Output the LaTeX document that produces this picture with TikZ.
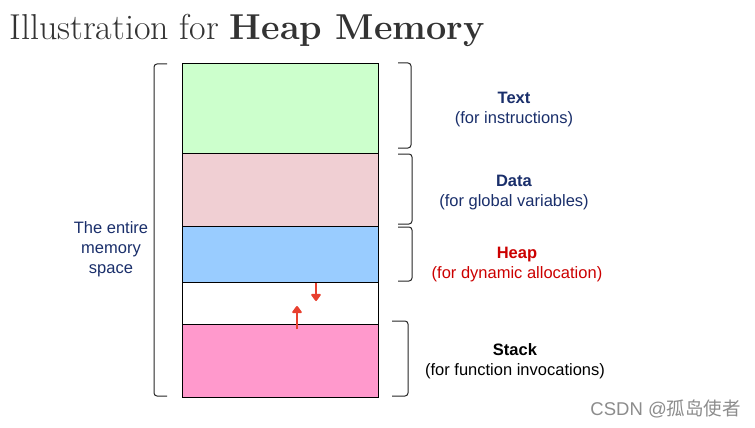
\documentclass[tikz,border=0pt]{standalone}
\usepackage{fontspec}
\setsansfont{Liberation Sans}
\newfontfamily\cjkfont{Noto Sans CJK SC}
\usetikzlibrary{arrows.meta}
\definecolor{navy}{HTML}{1A2F6B}
\definecolor{heapred}{HTML}{CC0000}
\definecolor{arrred}{HTML}{E8402F}
\definecolor{cgreen}{HTML}{CCFFCC}
\definecolor{cpink}{HTML}{F0CFD3}
\definecolor{cblue}{HTML}{99CCFF}
\definecolor{cstack}{HTML}{FF99CC}
\tikzset{
  seg/.style={draw=black, line width=1.1pt, anchor=north west, minimum width=196pt, inner sep=0pt},
  brace/.style={draw=black!85, line width=1pt, rounded corners=3pt},
  lbl/.style={font=\sffamily\fontsize{16.5}{20}\selectfont, align=center},
  growarrow/.style={draw=arrred, line width=2.6pt, -{Triangle[length=8pt,width=11pt,round]}}
}
\begin{document}
\begin{tikzpicture}[x=1pt,y=-1pt]
\useasboundingbox (0,0) rectangle (755,428);
\fill[white] (0,0) rectangle (755,428);
% title
\node[anchor=base west, inner sep=0pt, font=\fontsize{36}{40}\selectfont, text=black!80] (title) at (9,40) {Illustration for \textbf{Heap Memory}};
% segments
\node[seg, fill=cgreen, minimum height=90pt] (text) at (182,63) {};
\node[seg, fill=cpink, minimum height=73pt] (data) at (182,153) {};
\node[seg, fill=cblue, minimum height=56pt] (heap) at (182,226) {};
\node[seg, fill=white, minimum height=42pt] (gap) at (182,282) {};
\node[seg, fill=cstack, minimum height=73pt] (stack) at (182,324) {};
% left bracket
\draw[brace] (167,64) -- (154,64) -- (154,396) -- (167,396);
% right brackets
\draw[brace] (398,63) -- (411,63) -- (411,148) -- (398,148);
\draw[brace] (398,154) -- (412,154) -- (412,224) -- (398,224);
\draw[brace] (398,227) -- (412,227) -- (412,281) -- (398,281);
\draw[brace] (392,321) -- (408,321) -- (408,396) -- (392,396);
% labels
\node[lbl, text=navy] (ltext) at (514,110) {\textbf{Text}\\(for instructions)};
\node[lbl, text=navy] (ldata) at (514,193) {\textbf{Data}\\(for global variables)};
\node[lbl, text=heapred] (lheap) at (517,265) {\textbf{Heap}\\(for dynamic allocation)};
\node[lbl, text=black] (lstack) at (515,361) {\textbf{Stack}\\(for function invocations)};
\node[lbl, text=navy] (lall) at (111,249) {The entire\\memory\\space};
% growth arrows
\coordinate (hs) at (316,283);
\coordinate (he) at (316,301);
\coordinate (ss) at (297,329);
\coordinate (se) at (297,306);
\draw[growarrow] (hs) -- (he);
\draw[growarrow] (ss) -- (se);
% watermark
\node[anchor=base east, inner sep=0pt, text=black!45, font=\sffamily\fontsize{18.5}{20}\selectfont] (wm) at (741,415) {CSDN @{\cjkfont 孤岛使者}};
\end{tikzpicture}
\end{document}
